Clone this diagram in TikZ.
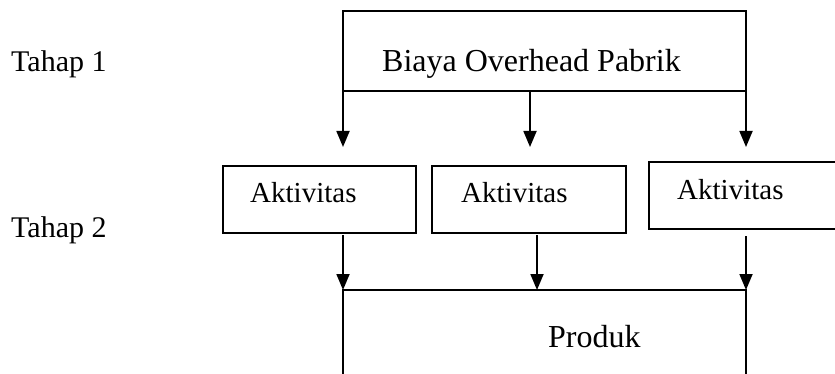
\documentclass[tikz,border=0pt]{standalone}
\usepackage{fontspec}
\setmainfont{Liberation Serif}
\usetikzlibrary{arrows.meta}
\begin{document}
\begin{tikzpicture}[x=1pt,y=-1pt,
  arr/.style={line width=1.8pt,-{Triangle[width=13pt,length=16pt]}},
  boxa/.style={draw,line width=1.8pt,rectangle,inner sep=0pt,outer sep=0pt,minimum width=194pt,minimum height=67pt},
  lbl/.style={anchor=base west,inner sep=0pt,font=\fontsize{30}{36}\selectfont}]
\useasboundingbox (0,0) rectangle (835,374);
\clip (0,0) rectangle (835,374);
% top box
\node[boxa,minimum width=403pt,minimum height=80pt] (biaya) at (544.5,51) {};
\node[lbl,font=\fontsize{32}{38}\selectfont] (biayatxt) at (382,72) {Biaya Overhead Pabrik};
% stage labels
\node[lbl] (tahap1) at (11,72) {Tahap 1};
\node[lbl] (tahap2) at (11,237) {Tahap 2};
% activity boxes
\node[boxa,minimum width=193pt] (akt1) at (319.5,199.5) {};
\node[boxa] (akt2) at (529,199.5) {};
\node[boxa,minimum width=196pt] (akt3) at (747,195.5) {};
\node[lbl,font=\fontsize{29}{35}\selectfont] (akt1txt) at (250,203) {Aktivitas};
\node[lbl,font=\fontsize{29}{35}\selectfont] (akt2txt) at (461,203) {Aktivitas};
\node[lbl,font=\fontsize{29}{35}\selectfont] (akt3txt) at (677,200) {Aktivitas};
% product box (open at the bottom, cut by the page edge)
\node[boxa,minimum width=403pt,minimum height=140pt] (produk) at (544.5,360) {};
\node[lbl,font=\fontsize{32}{38}\selectfont] (produktxt) at (548,347) {Produk};
% arrow end points
\coordinate (a1) at (343,147);
\coordinate (a2) at (530,147);
\coordinate (a3) at (746,147);
\coordinate (b1s) at (343,235);
\coordinate (b2s) at (537,235);
\coordinate (b3s) at (746,236);
\coordinate (b1) at (343,290);
\coordinate (b2) at (537,290);
\coordinate (b3) at (746,290);
% stage 1 connectors
\draw[arr] (biaya.south west) -- (a1);
\draw[arr] (biaya.south -| a2) -- (a2);
\draw[arr] (biaya.south east) -- (a3);
% stage 2 connectors
\draw[arr] (b1s) -- (b1);
\draw[arr] (b2s) -- (b2);
\draw[arr] (b3s) -- (b3);
\end{tikzpicture}
\end{document}
